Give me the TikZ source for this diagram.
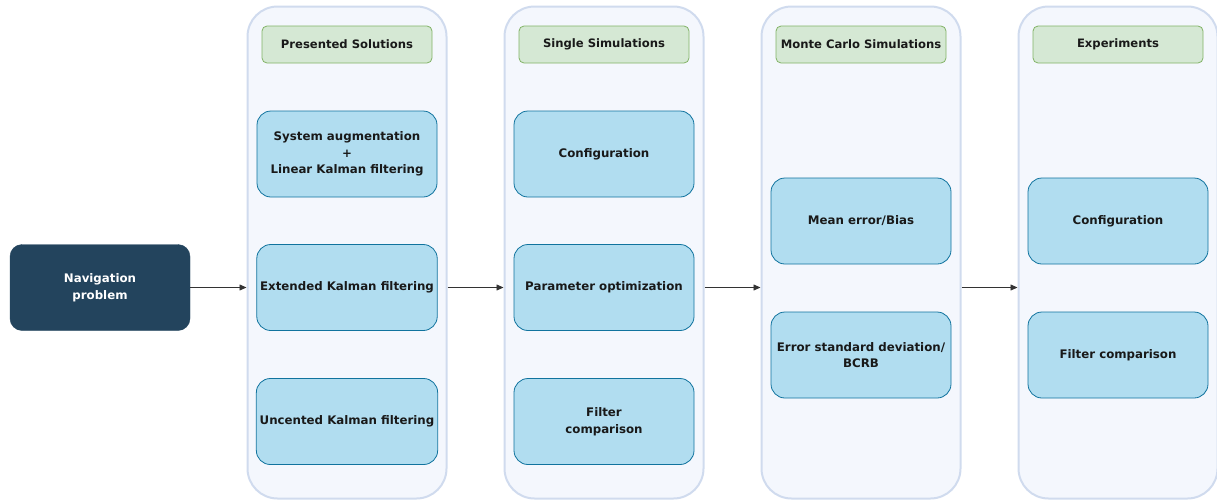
\documentclass[tikz,border=0pt]{standalone}
\usepackage{fontspec}
\setmainfont{DejaVu Sans}
\usetikzlibrary{arrows.meta}
\definecolor{colfill}{HTML}{F4F7FD}
\definecolor{coldraw}{HTML}{D0DBEE}
\definecolor{hdrfill}{HTML}{D5E8D4}
\definecolor{hdrdraw}{HTML}{82B366}
\definecolor{boxfill}{HTML}{B1DDF0}
\definecolor{boxdraw}{HTML}{10739E}
\definecolor{navfill}{HTML}{23445D}
\tikzset{
  column/.style={draw=coldraw, fill=colfill, line width=2pt, rounded corners=30pt, minimum width=199pt, minimum height=492pt, inner sep=0pt},
  header/.style={draw=hdrdraw, fill=hdrfill, line width=0.8pt, rounded corners=5pt, minimum width=170pt, minimum height=37pt, font=\bfseries\fontsize{11.6}{13}\selectfont, text=black!90},
  stepbox/.style={draw=boxdraw, fill=boxfill, line width=0.8pt, rounded corners=14pt, minimum width=180pt, minimum height=86pt, align=center, font=\bfseries\fontsize{11.8}{16.5}\selectfont, text=black!90},
  navbox/.style={draw=navfill, fill=navfill, rounded corners=12pt, minimum width=180pt, minimum height=86pt, align=center, text=white, font=\bfseries\fontsize{11.8}{16.5}\selectfont},
  conn/.style={-{Triangle[length=7pt,width=6pt]}, line width=0.7pt, draw=black!80}
}
\begin{document}
\begin{tikzpicture}[x=1pt,y=-1pt]
\useasboundingbox (0,0) rectangle (1217,501);
% columns
\node[column] (c1) at (347,252.5) {};
\node[column] (c2) at (604,252.5) {};
\node[column] (c3) at (861,252.5) {};
\node[column] (c4) at (1118,252.5) {};
% headers
\node[header] (h1) at (347,44.5) {Presented Solutions};
\node[header] (h2) at (604,44.5) {Single Simulations};
\node[header] (h3) at (861,44.5) {Monte Carlo Simulations};
\node[header] (h4) at (1118,44.5) {Experiments};
% navigation
\node[navbox] (nav) at (100,287.5) {Navigation\\problem};
% column 1
\node[stepbox] (a1) at (347,154) {System augmentation\\+\\Linear Kalman filtering};
\node[stepbox] (a2) at (347,287.5) {Extended Kalman filtering};
\node[stepbox] (a3) at (347,421.5) {Uncented Kalman filtering};
% column 2
\node[stepbox] (b1) at (604,154) {Configuration};
\node[stepbox] (b2) at (604,287.5) {Parameter optimization};
\node[stepbox] (b3) at (604,421.5) {Filter\\comparison};
% column 3
\node[stepbox] (d1) at (861,221) {Mean error/Bias};
\node[stepbox] (d2) at (861,355) {Error standard deviation/\\BCRB};
% column 4
\node[stepbox] (e1) at (1118,221) {Configuration};
\node[stepbox] (e2) at (1118,355) {Filter comparison};
% connectors
\draw[conn] (nav.east) -- (c1.west |- nav.east);
\draw[conn] (c1.east |- a2.east) -- (c2.west |- a2.east);
\draw[conn] (c2.east |- b2.east) -- (c3.west |- b2.east);
\draw[conn] (c3.east |- b2.east) -- (c4.west |- b2.east);
\end{tikzpicture}
\end{document}
